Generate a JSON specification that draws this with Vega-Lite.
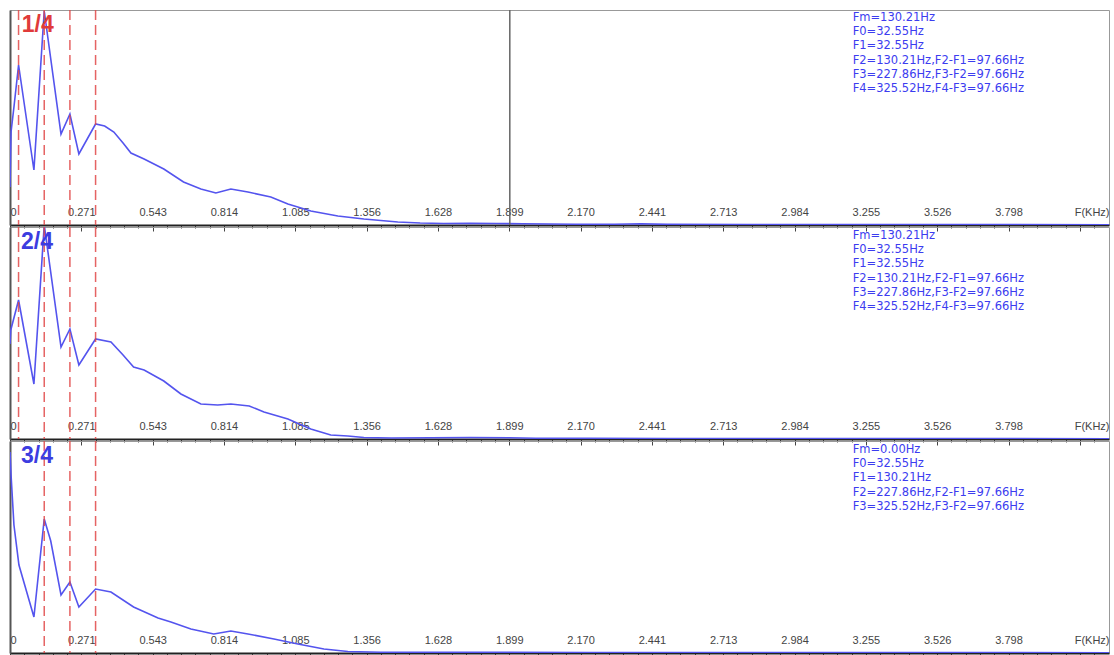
{
  "$schema": "https://vega.github.io/schema/vega-lite/v6.json",
  "background": "white",
  "padding": {"left": 9, "top": 8, "right": 5, "bottom": 0},
  "spacing": 2,
  "bounds": "flush",
  "datasets": {
    "p1": [
      {"f": 0, "a": 38}, {"f": 0.004, "a": 93}, {"f": 0.015, "a": 118}, {"f": 0.0326, "a": 160},
      {"f": 0.091, "a": 55}, {"f": 0.1302, "a": 214}, {"f": 0.194, "a": 91}, {"f": 0.2279, "a": 111},
      {"f": 0.262, "a": 71}, {"f": 0.3255, "a": 101}, {"f": 0.36, "a": 99}, {"f": 0.395, "a": 93},
      {"f": 0.43, "a": 82}, {"f": 0.46, "a": 72}, {"f": 0.51, "a": 66}, {"f": 0.585, "a": 56},
      {"f": 0.66, "a": 43}, {"f": 0.726, "a": 36}, {"f": 0.783, "a": 32}, {"f": 0.84, "a": 36},
      {"f": 0.905, "a": 33}, {"f": 0.992, "a": 28}, {"f": 1.057, "a": 21}, {"f": 1.144, "a": 14},
      {"f": 1.247, "a": 9}, {"f": 1.346, "a": 6}, {"f": 1.475, "a": 3}, {"f": 1.56, "a": 2},
      {"f": 1.65, "a": 1.5}, {"f": 1.75, "a": 1.8}, {"f": 1.85, "a": 1.5}, {"f": 1.95, "a": 1.2},
      {"f": 2.05, "a": 1}, {"f": 2.15, "a": 0.8}, {"f": 2.3, "a": 0.8}, {"f": 2.4, "a": 1.2},
      {"f": 2.5, "a": 0.6}, {"f": 2.8, "a": 0.5}, {"f": 3.2, "a": 0.4}, {"f": 3.6, "a": 0.4}, {"f": 4.18, "a": 0.3}
    ],
    "p2": [
      {"f": 0, "a": 95}, {"f": 0.003, "a": 109}, {"f": 0.0326, "a": 139}, {"f": 0.091, "a": 55},
      {"f": 0.1302, "a": 214}, {"f": 0.194, "a": 92}, {"f": 0.2279, "a": 110}, {"f": 0.262, "a": 74},
      {"f": 0.3255, "a": 100}, {"f": 0.384, "a": 97}, {"f": 0.43, "a": 84}, {"f": 0.47, "a": 72},
      {"f": 0.51, "a": 69}, {"f": 0.585, "a": 58}, {"f": 0.65, "a": 45}, {"f": 0.726, "a": 35},
      {"f": 0.79, "a": 34}, {"f": 0.84, "a": 35}, {"f": 0.91, "a": 33}, {"f": 0.966, "a": 27},
      {"f": 1.057, "a": 20}, {"f": 1.144, "a": 10}, {"f": 1.22, "a": 4}, {"f": 1.285, "a": 3},
      {"f": 1.346, "a": 1.5}, {"f": 1.45, "a": 1}, {"f": 1.6, "a": 1.2}, {"f": 1.75, "a": 1.5},
      {"f": 1.9, "a": 1.2}, {"f": 2.0, "a": 0.8}, {"f": 2.2, "a": 0.6}, {"f": 2.5, "a": 0.5},
      {"f": 3.0, "a": 0.4}, {"f": 4.18, "a": 0.3}
    ],
    "p3": [
      {"f": 0, "a": 201}, {"f": 0.004, "a": 178}, {"f": 0.015, "a": 128}, {"f": 0.034, "a": 88},
      {"f": 0.091, "a": 36}, {"f": 0.1302, "a": 134}, {"f": 0.155, "a": 112}, {"f": 0.194, "a": 58},
      {"f": 0.2279, "a": 71}, {"f": 0.262, "a": 46}, {"f": 0.3255, "a": 64}, {"f": 0.384, "a": 61},
      {"f": 0.47, "a": 46}, {"f": 0.563, "a": 35}, {"f": 0.612, "a": 31}, {"f": 0.688, "a": 24},
      {"f": 0.775, "a": 19}, {"f": 0.84, "a": 22}, {"f": 0.905, "a": 19}, {"f": 1.004, "a": 14},
      {"f": 1.095, "a": 9}, {"f": 1.194, "a": 4}, {"f": 1.285, "a": 1.5}, {"f": 1.41, "a": 0.8},
      {"f": 1.6, "a": 0.8}, {"f": 1.9, "a": 0.6}, {"f": 2.2, "a": 0.5}, {"f": 3.0, "a": 0.4}, {"f": 4.18, "a": 0.3}
    ],
    "m12": [{"f": 0.03255}, {"f": 0.13021}, {"f": 0.22786}, {"f": 0.32552}],
    "m3": [{"f": 0.13021}, {"f": 0.22786}, {"f": 0.32552}],
    "cur": [{"f": 1.901}]
  },
  "vconcat": [
    {
      "width": 1099, "height": 215,
      "layer": [
        {
          "data": {"name": "p1"},
          "mark": {"type": "line", "color": "#5454ee", "strokeWidth": 1.6, "clip": true},
          "encoding": {
            "x": {"field": "f", "type": "quantitative", "scale": {"domain": [0, 4.18], "nice": false, "zero": false},
              "axis": {
                "title": "F(KHz)", "titleX": 1099, "titleY": -8, "titleAlign": "right", "titleBaseline": "bottom",
                "titleFont": "Liberation Sans", "titleFontSize": 11, "titleFontWeight": "normal", "titleColor": "#444",
                "tickCount": 300,
                "values": [0,0.054254,0.108508,0.162762,0.217016,0.27127,0.325524,0.379778,0.434032,0.488286,0.54254,0.596794,0.651048,0.705302,0.759556,0.81381,0.868064,0.922318,0.976572,1.030826,1.08508,1.139334,1.193588,1.247842,1.302096,1.35635,1.410604,1.464858,1.519112,1.573366,1.62762,1.681874,1.736128,1.790382,1.844636,1.89889,1.953144,2.007398,2.061652,2.115906,2.17016,2.224414,2.278668,2.332922,2.387176,2.44143,2.495684,2.549938,2.604192,2.658446,2.7127,2.766954,2.821208,2.875462,2.929716,2.98397,3.038224,3.092478,3.146732,3.200986,3.25524,3.309494,3.363748,3.418002,3.472256,3.52651,3.580764,3.635018,3.689272,3.743526,3.79778,3.852034,3.906288,3.960542,4.014796,4.06905,4.123304],
                "labelExpr": "(round(datum.value/0.054254) % 5 == 0) ? ['0','0.271','0.543','0.814','1.085','1.356','1.628','1.899','2.170','2.441','2.713','2.984','3.255','3.526','3.798',''][round(datum.value/0.054254)/5] : ''",
                "tickSize": {"condition": {"test": "round(datum.value/0.054254) % 5 == 0", "value": 6}, "value": 3},
                "labelAlign": {"condition": {"test": "datum.value == 0", "value": "left"}, "value": "center"},
                "labelPadding": -14, "labelBaseline": "bottom",
                "labelFont": "Liberation Sans", "labelFontSize": 11, "labelColor": "#444",
                "labelOverlap": false, "labelFlush": false, "labelBound": false,
                "domainColor": "#222", "domainWidth": 2, "tickColor": "#444", "tickWidth": 1, "grid": false
              }},
            "y": {"field": "a", "type": "quantitative", "scale": {"domain": [0, 215], "nice": false},
              "axis": {"domain": true, "domainColor": "#555", "domainWidth": 2, "ticks": false, "labels": false, "title": null, "grid": false}}
          }
        },
        {
          "data": {"name": "m12"},
          "mark": {"type": "rule", "color": "#e04848", "strokeDash": [10, 5], "strokeWidth": 1.5, "opacity": 0.85},
          "encoding": {"x": {"field": "f", "type": "quantitative"}}
        },
        {
          "data": {"name": "cur"},
          "mark": {"type": "rule", "color": "#666", "strokeWidth": 1.5},
          "encoding": {"x": {"field": "f", "type": "quantitative"}}
        },
        {
          "data": {"values": [{}]},
          "mark": {"type": "text", "text": "1/4", "font": "Liberation Sans", "fontSize": 23, "fontWeight": "bold", "color": "#e03a3a", "align": "left", "baseline": "top"},
          "encoding": {"x": {"datum": 0.045}, "y": {"datum": 211}}
        },
        {
          "data": {"values": [{}]},
          "mark": {"type": "text", "text": ["Fm=130.21Hz", "F0=32.55Hz", "F1=32.55Hz", "F2=130.21Hz,F2-F1=97.66Hz", "F3=227.86Hz,F3-F2=97.66Hz", "F4=325.52Hz,F4-F3=97.66Hz"],
            "font": "DejaVu Sans", "fontSize": 11.5, "lineHeight": 14.2, "color": "#3c3cf0", "align": "left", "baseline": "top"},
          "encoding": {"x": {"datum": 3.205}, "y": {"datum": 213}}
        }
      ]
    },
    {
      "width": 1099, "height": 212,
      "layer": [
        {
          "data": {"name": "p2"},
          "mark": {"type": "line", "color": "#5454ee", "strokeWidth": 1.6, "clip": true},
          "encoding": {
            "x": {"field": "f", "type": "quantitative", "scale": {"domain": [0, 4.18], "nice": false, "zero": false},
              "axis": {
                "title": "F(KHz)", "titleX": 1099, "titleY": -8, "titleAlign": "right", "titleBaseline": "bottom",
                "titleFont": "Liberation Sans", "titleFontSize": 11, "titleFontWeight": "normal", "titleColor": "#444",
                "tickCount": 300,
                "values": [0,0.054254,0.108508,0.162762,0.217016,0.27127,0.325524,0.379778,0.434032,0.488286,0.54254,0.596794,0.651048,0.705302,0.759556,0.81381,0.868064,0.922318,0.976572,1.030826,1.08508,1.139334,1.193588,1.247842,1.302096,1.35635,1.410604,1.464858,1.519112,1.573366,1.62762,1.681874,1.736128,1.790382,1.844636,1.89889,1.953144,2.007398,2.061652,2.115906,2.17016,2.224414,2.278668,2.332922,2.387176,2.44143,2.495684,2.549938,2.604192,2.658446,2.7127,2.766954,2.821208,2.875462,2.929716,2.98397,3.038224,3.092478,3.146732,3.200986,3.25524,3.309494,3.363748,3.418002,3.472256,3.52651,3.580764,3.635018,3.689272,3.743526,3.79778,3.852034,3.906288,3.960542,4.014796,4.06905,4.123304],
                "labelExpr": "(round(datum.value/0.054254) % 5 == 0) ? ['0','0.271','0.543','0.814','1.085','1.356','1.628','1.899','2.170','2.441','2.713','2.984','3.255','3.526','3.798',''][round(datum.value/0.054254)/5] : ''",
                "tickSize": {"condition": {"test": "round(datum.value/0.054254) % 5 == 0", "value": 6}, "value": 3},
                "labelAlign": {"condition": {"test": "datum.value == 0", "value": "left"}, "value": "center"},
                "labelPadding": -14, "labelBaseline": "bottom",
                "labelFont": "Liberation Sans", "labelFontSize": 11, "labelColor": "#444",
                "labelOverlap": false, "labelFlush": false, "labelBound": false,
                "domainColor": "#222", "domainWidth": 2, "tickColor": "#444", "tickWidth": 1, "grid": false
              }},
            "y": {"field": "a", "type": "quantitative", "scale": {"domain": [0, 212], "nice": false},
              "axis": {"domain": true, "domainColor": "#555", "domainWidth": 2, "ticks": false, "labels": false, "title": null, "grid": false}}
          }
        },
        {
          "data": {"name": "m12"},
          "mark": {"type": "rule", "color": "#e04848", "strokeDash": [10, 5], "strokeWidth": 1.5, "opacity": 0.85},
          "encoding": {"x": {"field": "f", "type": "quantitative"}}
        },
        {
          "data": {"values": [{}]},
          "mark": {"type": "text", "text": "2/4", "font": "Liberation Sans", "fontSize": 23, "fontWeight": "bold", "color": "#3c3ce0", "align": "left", "baseline": "top"},
          "encoding": {"x": {"datum": 0.042}, "y": {"datum": 208}}
        },
        {
          "data": {"values": [{}]},
          "mark": {"type": "text", "text": ["Fm=130.21Hz", "F0=32.55Hz", "F1=32.55Hz", "F2=130.21Hz,F2-F1=97.66Hz", "F3=227.86Hz,F3-F2=97.66Hz", "F4=325.52Hz,F4-F3=97.66Hz"],
            "font": "DejaVu Sans", "fontSize": 11.5, "lineHeight": 14.2, "color": "#3c3cf0", "align": "left", "baseline": "top"},
          "encoding": {"x": {"datum": 3.205}, "y": {"datum": 209}}
        }
      ]
    },
    {
      "width": 1099, "height": 212,
      "layer": [
        {
          "data": {"name": "p3"},
          "mark": {"type": "line", "color": "#5454ee", "strokeWidth": 1.6, "clip": true},
          "encoding": {
            "x": {"field": "f", "type": "quantitative", "scale": {"domain": [0, 4.18], "nice": false, "zero": false},
              "axis": {
                "title": "F(KHz)", "titleX": 1099, "titleY": -8, "titleAlign": "right", "titleBaseline": "bottom",
                "titleFont": "Liberation Sans", "titleFontSize": 11, "titleFontWeight": "normal", "titleColor": "#444",
                "tickCount": 300,
                "values": [0,0.054254,0.108508,0.162762,0.217016,0.27127,0.325524,0.379778,0.434032,0.488286,0.54254,0.596794,0.651048,0.705302,0.759556,0.81381,0.868064,0.922318,0.976572,1.030826,1.08508,1.139334,1.193588,1.247842,1.302096,1.35635,1.410604,1.464858,1.519112,1.573366,1.62762,1.681874,1.736128,1.790382,1.844636,1.89889,1.953144,2.007398,2.061652,2.115906,2.17016,2.224414,2.278668,2.332922,2.387176,2.44143,2.495684,2.549938,2.604192,2.658446,2.7127,2.766954,2.821208,2.875462,2.929716,2.98397,3.038224,3.092478,3.146732,3.200986,3.25524,3.309494,3.363748,3.418002,3.472256,3.52651,3.580764,3.635018,3.689272,3.743526,3.79778,3.852034,3.906288,3.960542,4.014796,4.06905,4.123304],
                "labelExpr": "(round(datum.value/0.054254) % 5 == 0) ? ['0','0.271','0.543','0.814','1.085','1.356','1.628','1.899','2.170','2.441','2.713','2.984','3.255','3.526','3.798',''][round(datum.value/0.054254)/5] : ''",
                "tickSize": {"condition": {"test": "round(datum.value/0.054254) % 5 == 0", "value": 6}, "value": 3},
                "labelAlign": {"condition": {"test": "datum.value == 0", "value": "left"}, "value": "center"},
                "labelPadding": -14, "labelBaseline": "bottom",
                "labelFont": "Liberation Sans", "labelFontSize": 11, "labelColor": "#444",
                "labelOverlap": false, "labelFlush": false, "labelBound": false,
                "domainColor": "#222", "domainWidth": 2, "tickColor": "#444", "tickWidth": 1, "grid": false
              }},
            "y": {"field": "a", "type": "quantitative", "scale": {"domain": [0, 212], "nice": false},
              "axis": {"domain": true, "domainColor": "#555", "domainWidth": 2, "ticks": false, "labels": false, "title": null, "grid": false}}
          }
        },
        {
          "data": {"name": "m3"},
          "mark": {"type": "rule", "color": "#e04848", "strokeDash": [10, 5], "strokeWidth": 1.5, "opacity": 0.85},
          "encoding": {"x": {"field": "f", "type": "quantitative"}}
        },
        {
          "data": {"values": [{}]},
          "mark": {"type": "text", "text": "3/4", "font": "Liberation Sans", "fontSize": 23, "fontWeight": "bold", "color": "#3c3ce0", "align": "left", "baseline": "top"},
          "encoding": {"x": {"datum": 0.042}, "y": {"datum": 208}}
        },
        {
          "data": {"values": [{}]},
          "mark": {"type": "text", "text": ["Fm=0.00Hz", "F0=32.55Hz", "F1=130.21Hz", "F2=227.86Hz,F2-F1=97.66Hz", "F3=325.52Hz,F3-F2=97.66Hz"],
            "font": "DejaVu Sans", "fontSize": 11.5, "lineHeight": 14.2, "color": "#3c3cf0", "align": "left", "baseline": "top"},
          "encoding": {"x": {"datum": 3.205}, "y": {"datum": 209}}
        }
      ]
    }
  ],
  "config": {
    "view": {"stroke": "#999", "strokeWidth": 1}
  }
}
